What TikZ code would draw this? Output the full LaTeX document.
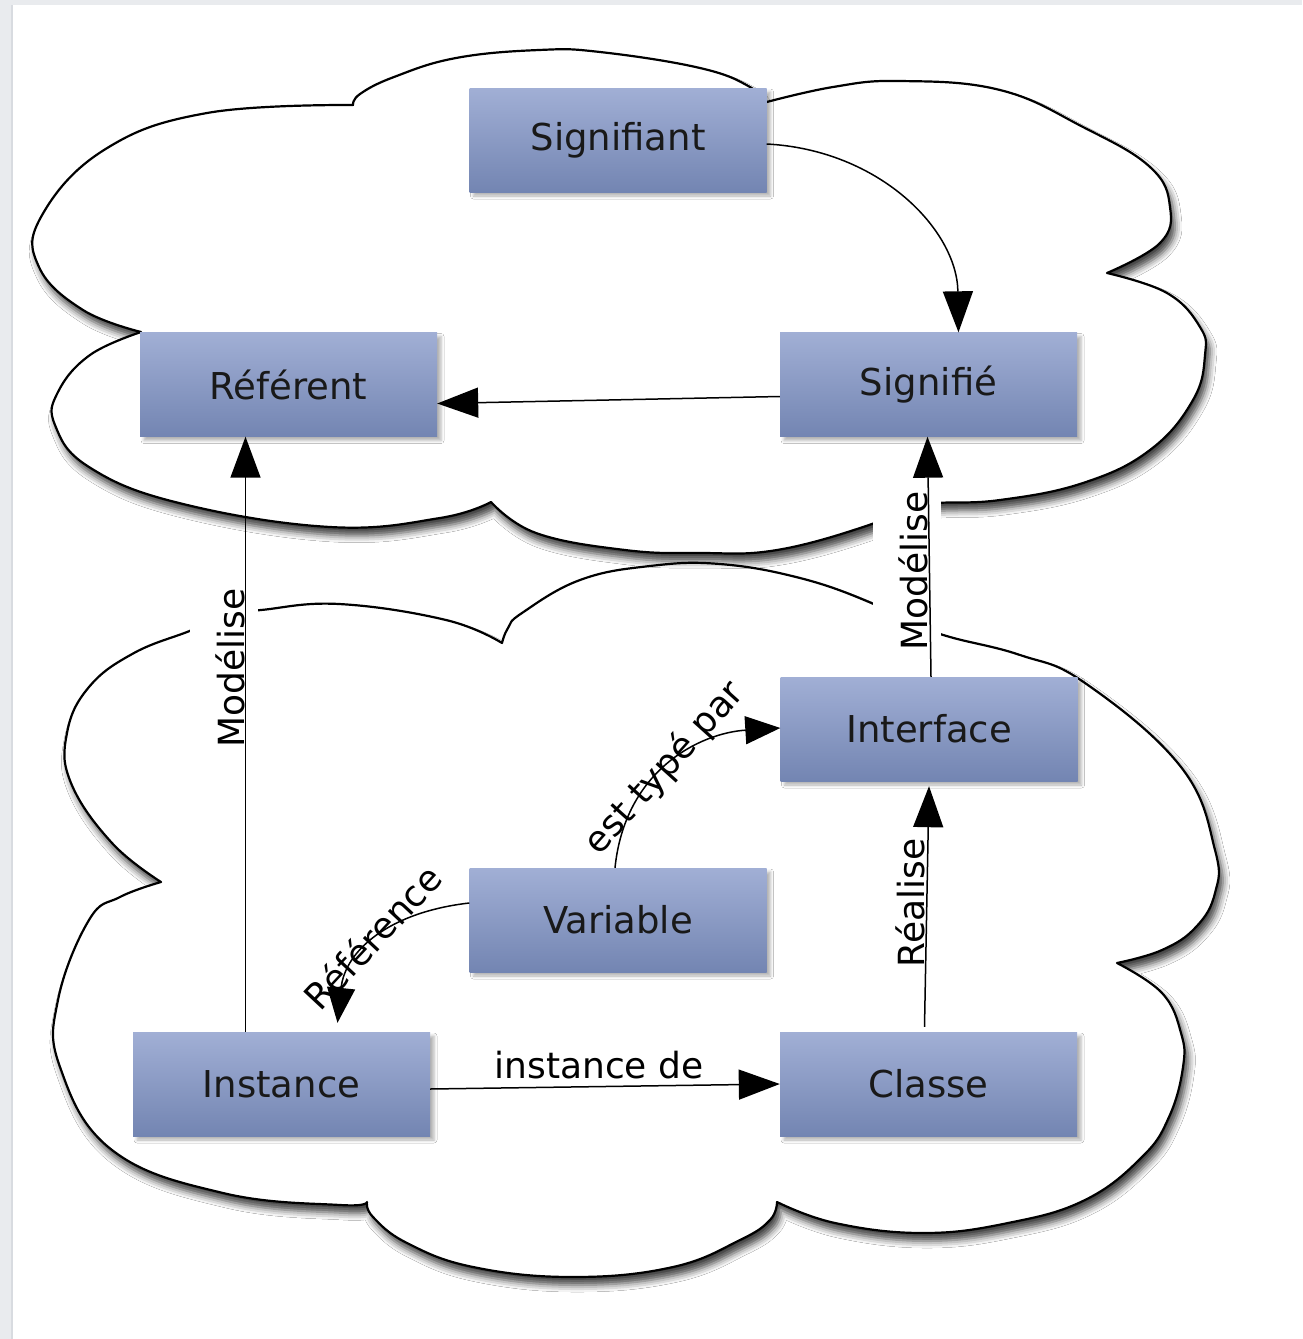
\documentclass[tikz,border=0pt]{standalone}
\usepackage{fontspec}
\setmainfont{DejaVu Sans}
\usetikzlibrary{arrows.meta,shadows.blur}
\definecolor{boxtop}{HTML}{A1AFD5}
\definecolor{boxbot}{HTML}{7385B2}
\definecolor{framegray}{HTML}{E9EBEE}
\definecolor{frameline}{HTML}{D8DBE0}
\begin{document}
\begin{tikzpicture}[x=1pt,y=-1pt,
  concept/.style={rectangle, minimum width=297pt, minimum height=104pt,
    top color=boxtop, bottom color=boxbot, draw=none, inner sep=0pt,
    font=\fontsize{37}{44}\selectfont, text=black!90,
    blur shadow={shadow xshift=4pt, shadow yshift=-4pt, shadow blur radius=3pt, shadow opacity=30}},
  cloudshape/.style={fill=white, draw=black, line width=2.2pt, line join=round,
    blur shadow={shadow xshift=4pt, shadow yshift=-8pt, shadow blur radius=7pt, shadow opacity=75}},
  arr/.style={draw=black, line width=1.5pt, -{Triangle[length=41pt,width=30pt]}},
  sarr/.style={draw=black, line width=1.5pt, -{Triangle[length=35pt,width=28pt]}},
  lab/.style={font=\fontsize{36}{43}\selectfont, inner sep=0pt, text=black},
  vlab/.style={lab, rotate=90, anchor=base, fill=white, text height=40pt, text depth=0pt, inner xsep=5pt, inner ysep=14pt},
  cs/.style={smooth, tension=0.7}
]
\useasboundingbox (0,0) rectangle (1302,1339);
% background frame
\fill[framegray] (0,0) rectangle (1302,1339);
\fill[white] (13,5) rectangle (1302,1339);
\draw[frameline, line width=2pt] (12,5) -- (12,1339);

% lower cloud
\path[cloudshape]
  plot[cs] coordinates {(161,882) (112,843) (71,783) (67,733) (89,687) (134,653) (192,630) (226,614)}
  -- plot[cs] coordinates {(226,614) (261,610) (339,604) (446,620) (502,643)}
  -- plot[cs] coordinates {(502,643) (508,628) (522,613) (580,580) (650,566) (720,564) (800,578) (869,602) (905,622)}
  -- plot[cs] coordinates {(905,622) (950,637) (1020,655) (1085,683) (1181,767) (1215,850) (1215,893) (1196,927) (1162,950) (1117,963)}
  -- plot[cs] coordinates {(1117,963) (1162,993) (1181,1033) (1183,1067) (1169,1117) (1142,1157) (1085,1200) (1008,1223) (923,1233) (835,1223) (777,1202)}
  -- plot[cs] coordinates {(777,1202) (770,1220) (740,1240) (673,1267) (573,1277) (473,1267) (407,1243) (373,1217) (367,1202)}
  -- plot[cs] coordinates {(367,1202) (340,1205) (223,1193) (112,1150) (60,1067) (58,1000) (89,920) (120,897) (161,882)}
  -- cycle;

% upper cloud
\path[cloudshape]
  plot[cs] coordinates {(141,332) (83,310) (39,267) (41,217) (104,150) (207,113) (353,105)}
  -- plot[cs] coordinates {(353,105) (360,94) (394,77) (456,58) (539,50) (600,52) (700,68) (750,87) (763,103)}
  -- plot[cs] coordinates {(763,103) (833,87) (900,81) (1000,90) (1083,127) (1150,167) (1170,207) (1160,243) (1107,273)}
  -- plot[cs] coordinates {(1107,273) (1167,293) (1200,327) (1205,355) (1193,400) (1150,450) (1083,483) (1000,500) (937,503) (905,507)}
  -- plot[cs] coordinates {(905,507) (869,525) (777,550) (700,553) (625,550) (536,533) (491,502)}
  -- plot[cs] coordinates {(491,502) (440,518) (330,527) (179,503) (89,467) (55,425) (58,392) (90,355) (141,332)}
  -- cycle;

% concepts
\node[concept] (Signifiant) at (618,140) {Signifiant};
\node[concept] (Referent)   at (288.5,384.5) {Référent};
\node[concept] (Signifie)   at (928.5,384.5) {Signifié};
\node[concept] (Interface)  at (929,729) {Interface};
\node[concept] (Variable)   at (618,920) {Variable};
\node[concept] (Instance)   at (281.5,1084) {Instance};
\node[concept] (Classe)     at (928.5,1084) {Classe};

% labels
\node[vlab] (lModA) at (244,668) {Modélise};
\node[vlab] (lModB) at (927,571) {Modélise};
\node[vlab] (lReal) at (924,903) {Réalise};
\node[lab, anchor=base] (lInst) at (599,1078) {instance de};
\node[lab, rotate=47] (lRef) at (372,937) {Référence};
\node[lab, rotate=48] (lType) at (665,768) {est typé par};

% connectors
\draw[arr] ([yshift=-4pt]Signifiant.east) .. controls (880,150) and (957,230) .. ([xshift=30pt]Signifie.north);
\draw[arr] ([yshift=-12pt]Signifie.west) -- ([yshift=-19pt]Referent.east);
\draw[arr] ([xshift=-36pt]Instance.north) -- ([xshift=-43pt]Referent.south);
\draw[arr] ([xshift=2pt]Interface.north) -- ([xshift=-1pt]Signifie.south);
\draw[arr] ([xshift=-4pt,yshift=5pt]Classe.north) -- ([xshift=0pt,yshift=-5pt]Interface.south);
\draw[arr] ([yshift=-5pt]Instance.east) -- (Classe.west);
\draw[sarr] ([xshift=-3pt]Variable.north) .. controls (625,770) and (700,733) .. ([yshift=1pt]Interface.west);
\draw[sarr] ([yshift=17pt]Variable.west) .. controls (390,912) and (345,950) .. ([xshift=56pt,yshift=9pt]Instance.north);
\end{tikzpicture}
\end{document}
